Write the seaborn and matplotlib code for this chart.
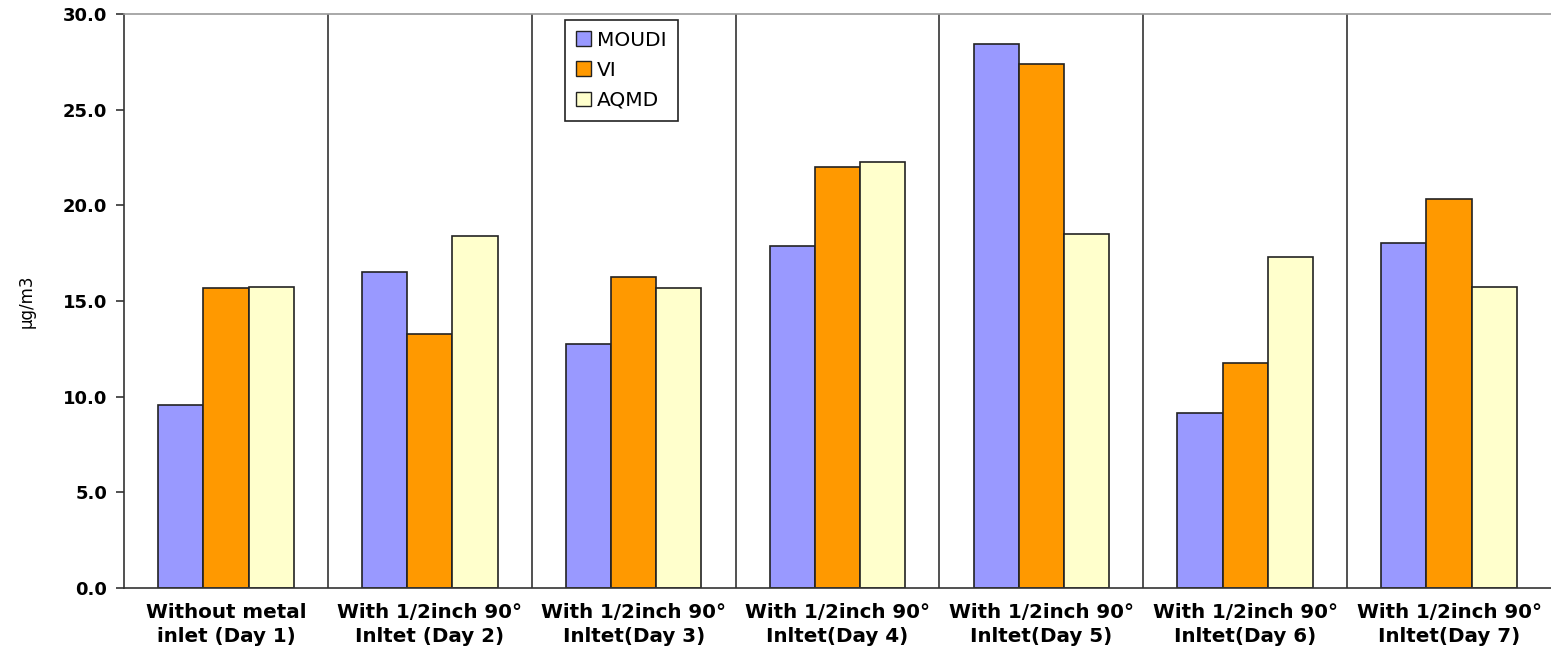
import matplotlib
matplotlib.use("Agg")
import matplotlib.pyplot as plt
import seaborn as sns
import pandas as pd
import numpy as np
from matplotlib.patches import Patch

categories = [
    "Without metal\ninlet (Day 1)",
    "With 1/2inch 90°\nInltet (Day 2)",
    "With 1/2inch 90°\nInltet(Day 3)",
    "With 1/2inch 90°\nInltet(Day 4)",
    "With 1/2inch 90°\nInltet(Day 5)",
    "With 1/2inch 90°\nInltet(Day 6)",
    "With 1/2inch 90°\nInltet(Day 7)",
]
series_names = ["MOUDI", "VI", "AQMD"]
moudi = [9.55, 16.52, 12.75, 17.89, 28.45, 9.13, 18.03]
vi = [15.68, 13.30, 16.23, 22.00, 27.38, 11.75, 20.33]
aqmd = [15.74, 18.38, 15.68, 22.24, 18.51, 17.32, 15.74]
yticks = [0, 5, 10, 15, 20, 25, 30]
colors = ["#9999FF", "#FF9900", "#FFFFCC"]

rows = []
for name, vals in zip(series_names, [moudi, vi, aqmd]):
    for c, v in zip(categories, vals):
        rows.append({"cat": c, "series": name, "value": v})
df = pd.DataFrame(rows)

sns.set_style("white")
plt.rcParams["font.family"] = ["DejaVu Sans"]
plt.rcParams["text.color"] = "black"
plt.rcParams["axes.labelcolor"] = "black"
plt.rcParams["xtick.color"] = "black"
plt.rcParams["ytick.color"] = "black"

fig = plt.figure(figsize=(15.51, 6.66), dpi=100)
ax = fig.add_axes([0.080, 0.1171, 0.920, 0.8619])

sns.barplot(data=df, x="cat", y="value", hue="series", order=categories,
            hue_order=series_names, palette=colors, width=0.665,
            edgecolor="#222222", linewidth=1.2, saturation=1, ax=ax,
            legend=False, errorbar=None)

ax.set_xlim(-0.5, len(categories) - 0.5)
ax.set_ylim(0, 30)
ax.set_yticks(yticks)
ax.set_yticklabels([f"{t:.1f}" for t in yticks], fontsize=13, fontweight="bold", color="black")
ax.set_xticks(range(len(categories)))
ax.set_xticklabels(categories, fontsize=14.3, fontweight="bold", linespacing=1.3, color="black")
ax.tick_params(axis="x", which="major", length=0, pad=11)
ax.set_xticks(np.arange(len(categories) + 1) - 0.5, minor=True)
ax.tick_params(axis="x", which="minor", length=7, width=1.2, color="#333333", direction="out")
ax.tick_params(axis="y", which="major", length=6, width=1.2, color="#333333", direction="out", pad=6, left=True)

for b in np.arange(1, len(categories)) - 0.5:
    ax.axvline(b, color="#333333", linewidth=1.2, zorder=0.5)

ax.set_xlabel("")
ax.set_ylabel("µg/m3", fontsize=12, labelpad=20, color="black")

for s in ["left", "bottom"]:
    ax.spines[s].set_color("#333333")
    ax.spines[s].set_linewidth(1.2)
ax.spines["top"].set_color("#999999")
ax.spines["top"].set_linewidth(1.2)
ax.spines["right"].set_visible(False)

handles = [Patch(facecolor=c, edgecolor="#222222", linewidth=1.0, label=n)
           for c, n in zip(colors, series_names)]
leg = ax.legend(handles=handles, loc="upper left", bbox_to_anchor=(0.309, 0.99),
                fontsize=14.5, frameon=True, fancybox=False, shadow=False,
                framealpha=1, handlelength=0.75, handleheight=0.75, handletextpad=0.3,
                labelspacing=0.55, borderpad=0.55, borderaxespad=0)
leg.get_frame().set_edgecolor("#222222")
leg.get_frame().set_linewidth(1.2)
for t in leg.get_texts():
    t.set_color("black")

fig.savefig("out.png", dpi=100)
